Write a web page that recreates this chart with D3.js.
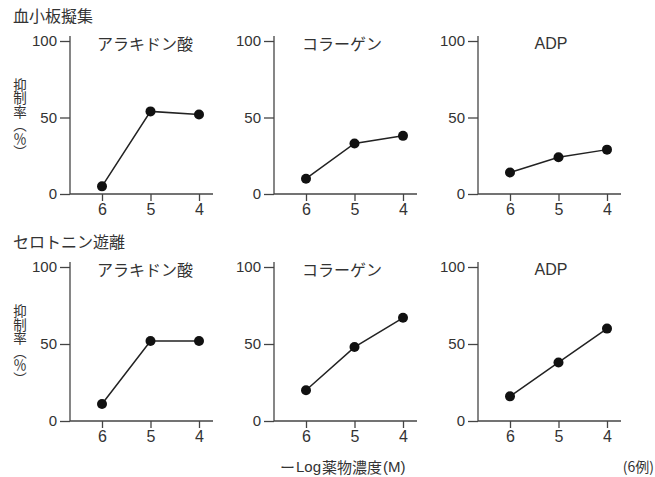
<!DOCTYPE html>
<html>
<head>
<meta charset="utf-8">
<script src="https://cdn.jsdelivr.net/npm/d3@7"></script>
<style>
  html, body { margin: 0; padding: 0; background: #fff; }
  svg { display: block; }
  text { fill: #333; }
</style>
</head>
<body>
<svg id="chart" width="655" height="477"></svg>
<script>
// -log molar concentration on the x axis
const concentrations = [6, 5, 4];
const agonists = ["アラキドン酸", "コラーゲン", "ADP"];
const groups = ["血小板擬集", "セロトニン遊離"];
// inhibition rate (%) per agonist at -log M = 6, 5, 4
const aggregationValues = [
  [5, 54, 52],
  [10, 33, 38],
  [14, 24, 29]
];
const serotoninValues = [
  [11, 52, 52],
  [20, 48, 67],
  [16, 38, 60]
];
const yTicks = [0, 50, 100];
const yLabel = "抑制率（％）";
const xAxisLabelParts = ["ー", "Log", "薬物濃度", "(M)"];
const footnote = "(6例)";

const FONT = "'Liberation Sans', Arial, 'Noto Sans CJK JP', sans-serif";
const CJK = "'Noto Sans CJK JP', 'Liberation Sans', sans-serif";

const svg = d3.select("#chart");

const panelLeft = [70, 274, 478];
const rowBase = [194, 421];
const rowTop = [41, 267];
const titleOffset = [75, 68, 73];
const rows = [aggregationValues, serotoninValues];

rows.forEach((rowValues, r) => {
  const y = d3.scaleLinear().domain([0, 100]).range([rowBase[r], rowTop[r]]);

  // group heading
  svg.append("text")
    .attr("x", 13).attr("y", rowTop[r] - 26)
    .attr("dominant-baseline", "central")
    .style("font-family", CJK).style("font-size", "16px")
    .text(groups[r]);

  // vertical y label (top-to-bottom writing)
  svg.append("text")
    .attr("x", 20).attr("y", y(50) + 1)
    .attr("text-anchor", "middle")
    .style("writing-mode", "vertical-rl")
    .style("text-orientation", "mixed")
    .style("font-family", CJK).style("font-size", "13.5px")
    .text(yLabel);

  rowValues.forEach((vals, p) => {
    const x0 = panelLeft[p];
    const x = d3.scaleLinear().domain([6, 4]).range([x0 + 32, x0 + 129]);
    const g = svg.append("g");

    // axis lines
    g.append("line")
      .attr("x1", x0).attr("x2", x0)
      .attr("y1", y(100) - 5).attr("y2", y(0))
      .attr("stroke", "#444").attr("stroke-width", 1.3);
    g.append("line")
      .attr("x1", x0).attr("x2", x0 + 143)
      .attr("y1", y(0)).attr("y2", y(0))
      .attr("stroke", "#444").attr("stroke-width", 1.3);

    // y axis ticks
    const ya = g.append("g").attr("transform", `translate(${x0},0)`)
      .call(d3.axisLeft(y).tickValues(yTicks).tickSize(10).tickPadding(3));
    ya.select(".domain").remove();
    ya.selectAll(".tick line").attr("stroke", "#444").attr("stroke-width", 1.3);
    ya.selectAll(".tick text")
      .style("font-family", FONT).style("font-size", "15px").attr("fill", "#333");

    // x axis ticks
    const xa = g.append("g").attr("transform", `translate(0,${y(0)})`)
      .call(d3.axisBottom(x).tickValues(concentrations).tickSize(7).tickPadding(3)
        .tickFormat(d3.format("d")));
    xa.select(".domain").remove();
    xa.selectAll(".tick line").attr("stroke", "#444").attr("stroke-width", 1.3);
    xa.selectAll(".tick text")
      .style("font-family", FONT).style("font-size", "16px").attr("fill", "#333");

    // panel title
    g.append("text")
      .attr("x", x0 + titleOffset[p]).attr("y", y(100) + 2)
      .attr("text-anchor", "middle")
      .attr("dominant-baseline", "central")
      .style("font-family", p === 2 ? FONT : CJK).style("font-size", "16px")
      .text(agonists[p]);

    const pts = concentrations.map((c, i) => [x(c), y(vals[i])]);
    g.append("path")
      .attr("d", d3.line()(pts))
      .attr("fill", "none").attr("stroke", "#222").attr("stroke-width", 1.5);
    g.selectAll("circle").data(pts).join("circle")
      .attr("cx", d => d[0]).attr("cy", d => d[1]).attr("r", 5)
      .attr("fill", "#111");
  });
});

// shared x-axis label
const xl = svg.append("text")
  .attr("x", 280).attr("y", 466)
  .attr("dominant-baseline", "central")
  .style("font-family", CJK).style("font-size", "15px");
xl.append("tspan").text(xAxisLabelParts[0]);
xl.append("tspan").text(xAxisLabelParts[1]).style("font-family", FONT).attr("dx", 1);
xl.append("tspan").text(xAxisLabelParts[2]).attr("dx", 1);
xl.append("tspan").text(xAxisLabelParts[3]).style("font-family", FONT).attr("dx", 1);

svg.append("text")
  .attr("x", 654).attr("y", 466)
  .attr("text-anchor", "end").attr("dominant-baseline", "central")
  .style("font-family", CJK).style("font-size", "14px")
  .text(footnote);
</script>
</body>
</html>
